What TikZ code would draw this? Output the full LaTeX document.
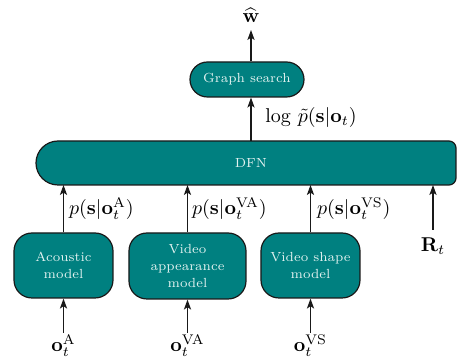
\documentclass[tikz,border=0pt]{standalone}
\usetikzlibrary{arrows.meta,shapes.misc}
\definecolor{tealfill}{RGB}{0,128,128}
\definecolor{boxtext}{RGB}{226,242,240}
\definecolor{edge}{RGB}{25,25,25}
\tikzset{
  modelbox/.style={draw=edge, line width=0.6pt, fill=tealfill, text=boxtext,
    rounded corners=9pt, align=center, inner sep=1pt,
    font=\fontsize{6.6}{8.5}\selectfont},
  pillbox/.style={rounded rectangle, draw=edge, line width=0.6pt, fill=tealfill,
    text=boxtext, inner sep=1pt, font=\fontsize{6.6}{8.5}\selectfont},
  arr/.style={-{Stealth[length=5pt,width=3.6pt,inset=1.2pt]}, line width=0.55pt, draw=edge},
  mathlbl/.style={inner sep=1pt, outer sep=0pt},
}
\begin{document}
\begin{tikzpicture}[x=0.5pt,y=-0.5pt]
\useasboundingbox (0,0) rectangle (457,358);
% DFN shape
\draw[draw=edge, line width=0.6pt, fill=tealfill]
  (58,141) -- (449,141) arc[start angle=90,end angle=0,radius=3.5pt]
  -- (456,178) arc[start angle=0,end angle=-90,radius=3.5pt]
  -- (58,185) arc[start angle=270,end angle=90,radius=11pt] -- cycle;
\node[minimum width=215pt, minimum height=22pt, inner sep=0pt, outer sep=0pt,
  text=boxtext, font=\fontsize{6.6}{8.5}\selectfont] (dfn) at (251,163) {DFN};

\node[pillbox, minimum width=59pt, minimum height=17.5pt] (gs) at (247,79.5) {Graph search};
\node[inner sep=3.3pt, anchor=south] (what) at (251,30) {$\widehat{\mathbf{w}}$};

\node[modelbox, minimum width=49.5pt, minimum height=32.5pt] (ac) at (63.5,265.5) {Acoustic\\model};
\node[modelbox, minimum width=58.5pt, minimum height=33pt] (va) at (187.5,266) {Video\\appearance\\model};
\node[modelbox, minimum width=49.5pt, minimum height=32.5pt] (vs) at (310.5,265.5) {Video shape\\model};

\node[mathlbl, anchor=north] (oa) at (63.5,333) {$\mathbf{o}_t^{\mathrm{A}}$};
\node[mathlbl, anchor=north] (ova) at (187.5,333) {$\mathbf{o}_t^{\mathrm{VA}}$};
\node[mathlbl, anchor=north] (ovs) at (310.5,333) {$\mathbf{o}_t^{\mathrm{VS}}$};
\node[inner sep=0pt, outer sep=0pt, anchor=north] (rt) at (433,238) {$\mathbf{R}_t$};
\coordinate (rtop) at (433,230);

\draw[arr] (oa) -- (ac);
\draw[arr] (ova) -- (va);
\draw[arr] (ovs) -- (vs);
\draw[arr] (rtop) -- (rtop |- dfn.south);
\draw[arr] (ac.north) -- (ac.north |- dfn.south)
  node[midway, right, inner sep=2.5pt] (la) {$p(\mathbf{s}|\mathbf{o}_t^{\mathrm{A}})$};
\draw[arr] (va.north) -- (va.north |- dfn.south)
  node[midway, right, inner sep=2pt] (lva) {$p(\mathbf{s}|\mathbf{o}_t^{\mathrm{VA}})$};
\draw[arr] (vs.north) -- (vs.north |- dfn.south)
  node[midway, right, inner sep=3pt] (lvs) {$p(\mathbf{s}|\mathbf{o}_t^{\mathrm{VS}})$};
\draw[arr] (dfn.north) -- (dfn.north |- gs.south);
\node[anchor=west, inner sep=0pt] (llog) at (265,118) {$\log\,\tilde{p}(\mathbf{s}|\mathbf{o}_t)$};
\draw[arr] (gs.north -| dfn.north) -- (what.south);
\end{tikzpicture}
\end{document}
